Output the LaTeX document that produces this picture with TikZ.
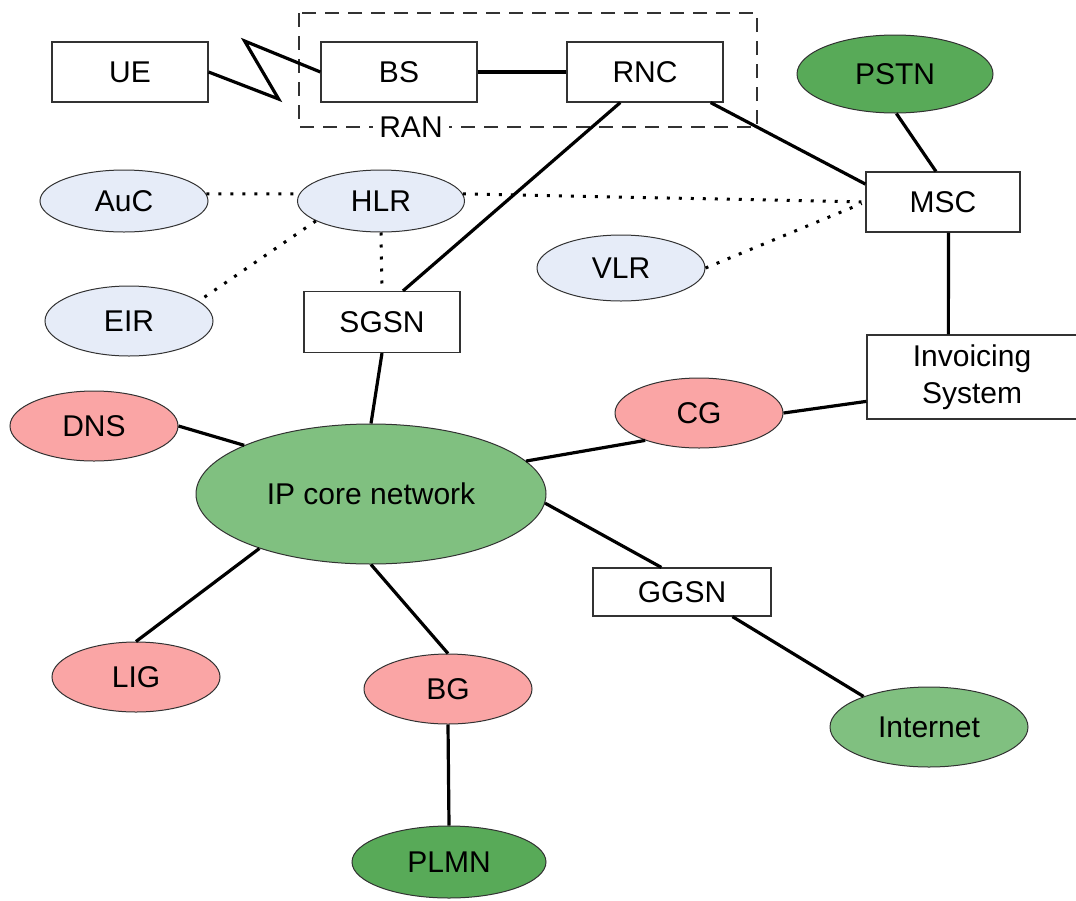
\documentclass[tikz,border=0pt]{standalone}
\usepackage{fontspec}
\setmainfont{Liberation Sans}
\usetikzlibrary{shapes.geometric}

\definecolor{infoblue}{RGB}{230,236,248}
\definecolor{gwpink}{RGB}{250,165,165}
\definecolor{netgreen}{RGB}{128,192,128}
\definecolor{extgreen}{RGB}{88,170,88}
\definecolor{edgegray}{RGB}{50,50,50}

\tikzset{
  netbox/.style={draw=edgegray,line width=1.2pt,fill=white,rectangle,inner sep=0pt,
    minimum width=156pt,minimum height=60pt,align=center},
  netell/.style={draw=edgegray,line width=1pt,ellipse,inner sep=0pt,
    minimum width=168pt,minimum height=70pt},
  dbell/.style={netell,fill=infoblue},
  gwell/.style={netell,fill=gwpink},
  link/.style={line width=3.2pt,black},
  sig/.style={line width=3pt,black,dash pattern=on 3pt off 9pt}
}

\begin{document}
\begin{tikzpicture}[x=1pt,y=-1pt,font=\fontsize{30}{37}\selectfont]
\useasboundingbox (0,0) rectangle (1076,900);

% radio access network
\draw[edgegray,line width=2.4pt,dash pattern=on 14pt off 9pt] (299,13) rectangle (757,127);
\node[fill=white,inner xsep=6pt,inner ysep=0pt] (ran) at (411,127) {RAN};

\node[netbox] (ue)  at (130,72) {UE};
\node[netbox] (bs)  at (399,72) {BS};
\node[netbox] (rnc) at (645,72) {RNC};
\node[netell,fill=extgreen,minimum width=196pt,minimum height=78pt] (pstn) at (895,74) {PSTN};
\node[netbox,minimum width=154pt] (msc) at (943,202) {MSC};

% databases
\node[dbell,minimum height=62pt] (auc) at (124,201) {AuC};
\node[dbell,minimum width=167pt,minimum height=62pt] (hlr) at (381,201) {HLR};
\node[dbell] (eir) at (129,321) {EIR};
\node[dbell,minimum height=66pt] (vlr) at (621,268) {VLR};
\node[netbox,minimum height=61pt] (sgsn) at (382,322) {SGSN};

% packet core
\node[netell,fill=netgreen,minimum width=350pt,minimum height=140pt] (ip) at (371,494) {IP core network};
\node[gwell] (dns) at (94,426) {DNS};
\node[gwell] (lig) at (136,677) {LIG};
\node[gwell] (bg)  at (448,689) {BG};
\node[netell,fill=extgreen,minimum width=194pt,minimum height=72pt] (plmn) at (449,862) {PLMN};
\node[gwell] (cg)  at (699,413) {CG};
\node[netbox,minimum width=210pt,minimum height=84pt] (inv) at (972,377) {Invoicing\\System};
\node[netbox,minimum width=178pt,minimum height=48pt] (ggsn) at (682,592) {GGSN};
\node[netell,fill=netgreen,minimum width=198pt,minimum height=80pt] (inet) at (929,727) {Internet};

% bearer links
\draw[link] (ue.east) -- ++(70,27) -- ++(-34,-58) -- (bs.west);
\draw[link] (bs.east) -- (rnc.west);
\draw[link] (rnc.-25) -- (msc.167);
\draw[link] (rnc.231) -- (sgsn.56);
\draw[link] (pstn.-88) -- (msc.103);
\draw[link] (msc.-80) -- (inv.119);
\draw[link] (sgsn.south) -- (ip.north);
\draw[link] (dns.0) -- (ip.159);
\draw[link] (ip.206) -- (lig.north);
\draw[link] (ip.south) -- (bg.north);
\draw[link] (bg.south) -- (plmn.north);
\draw[link] (ip.12) -- (cg.207);
\draw[link] (cg.east) -- (inv.193);
\draw[link] (ip.-3) -- (ggsn.130);
\draw[link] (ggsn.-26) -- (inet.155);

% signalling
\draw[sig] (auc.5) -- (hlr.175);
\draw[sig] (hlr.197) -- (eir.16);
\draw[sig] (hlr.south) -- (sgsn.north);
\draw[sig,shorten >=4pt] (hlr.5) -- (msc.west);
\draw[sig,shorten >=4pt] (vlr.east) -- (msc.west);
\end{tikzpicture}
\end{document}
